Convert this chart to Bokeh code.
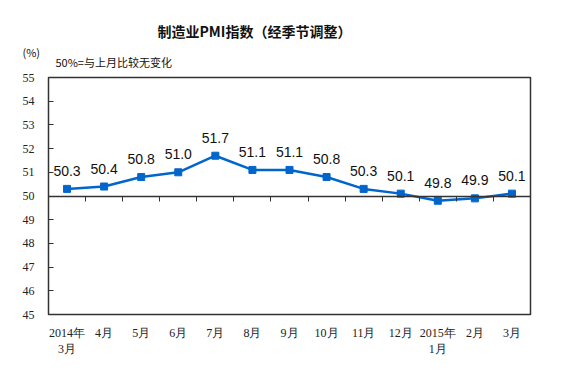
from bokeh.plotting import figure
from bokeh.models import FixedTicker, LinearAxis, Title, Range1d, ColumnDataSource, LabelSet
from bokeh.core.properties import value
from bokeh.embed import file_html
from bokeh.resources import INLINE

months = ["2014年\n3月", "4月", "5月", "6月", "7月", "8月", "9月", "10月", "11月", "12月", "2015年\n1月", "2月", "3月"]
pmi = [50.3, 50.4, 50.8, 51.0, 51.7, 51.1, 51.1, 50.8, 50.3, 50.1, 49.8, 49.9, 50.1]
y_ticks = [45, 46, 47, 48, 49, 50, 51, 52, 53, 54, 55]
title = "制造业PMI指数（经季节调整）"
unit = "(%)"
note = "50%=与上月比较无变化"
baseline = 50

xs = list(range(1, len(months) + 1))
src = ColumnDataSource(dict(x=xs, y=pmi, t=["%.1f" % v for v in pmi]))

p = figure(width=563, height=376, output_backend="svg", toolbar_location=None,
           x_range=Range1d(0.5, len(months) + 0.5), y_range=Range1d(min(y_ticks), max(y_ticks)),
           min_border_left=48, min_border_right=33, min_border_top=77, min_border_bottom=62,
           x_axis_type=None)
p.background_fill_color = "white"
p.border_fill_color = "white"
p.outline_line_color = "#333333"
p.outline_line_width = 1.5
p.grid.visible = False

# y axis
p.yaxis.ticker = FixedTicker(ticks=y_ticks)
p.yaxis.major_tick_in = 5
p.yaxis.major_tick_out = 0
p.yaxis.minor_tick_line_color = None
p.yaxis.axis_line_color = None
p.yaxis.major_tick_line_color = "#333333"
p.yaxis.major_label_text_font = "Liberation Serif"
p.yaxis.major_label_text_font_size = "12px"
p.yaxis.major_label_text_color = "#222222"
p.yaxis.major_label_standoff = 14

# bottom labels axis
xb = LinearAxis(ticker=FixedTicker(ticks=xs),
                major_label_overrides={i: m for i, m in zip(xs, months)})
xb.axis_line_color = None
xb.major_tick_line_color = None
xb.minor_tick_line_color = None
xb.major_label_text_font = "Liberation Serif"
xb.major_label_text_font_size = "12px"
xb.major_label_text_color = "#222222"
xb.major_label_standoff = 5
p.add_layout(xb, "below")

# baseline axis at 50 with category boundary ticks
xm = LinearAxis(ticker=FixedTicker(ticks=[i + 0.5 for i in xs[:-1]]), fixed_location=baseline)
xm.axis_line_color = "#333333"
xm.axis_line_width = 1.5
xm.major_tick_out = 5
xm.major_tick_in = 0
xm.major_tick_line_color = "#333333"
xm.minor_tick_line_color = None
xm.major_label_text_font_size = "0px"
xm.major_label_text_color = None
p.add_layout(xm, "below")

p.line("x", "y", source=src, line_color="#0066CC", line_width=2.5)
p.scatter("x", "y", source=src, marker="square", size=7, fill_color="#0066CC", line_color="#0066CC")
p.add_layout(LabelSet(x="x", y="y", text="t", source=src, y_offset=13, text_align="center",
                      text_font=value("Liberation Sans"), text_font_size=value("14px"),
                      text_color="#111111"))

p.title.visible = False
p.add_layout(Title(text=note, align="left", offset=7, standoff=16,
                   text_font="Noto Sans CJK SC", text_font_size="11px", text_font_style="normal",
                   text_color="#111111"), "above")
p.add_layout(Title(text=unit, align="left", offset=-26, standoff=-32,
                   text_font="Noto Sans CJK SC", text_font_size="11px", text_font_style="normal",
                   text_color="#111111"), "above")
p.add_layout(Title(text=title, align="left", offset=109, standoff=5,
                   text_font="Noto Sans CJK SC", text_font_size="14px", text_font_style="bold",
                   text_color="#111111"), "above")

open("out.html", "w").write(file_html(p, INLINE))
